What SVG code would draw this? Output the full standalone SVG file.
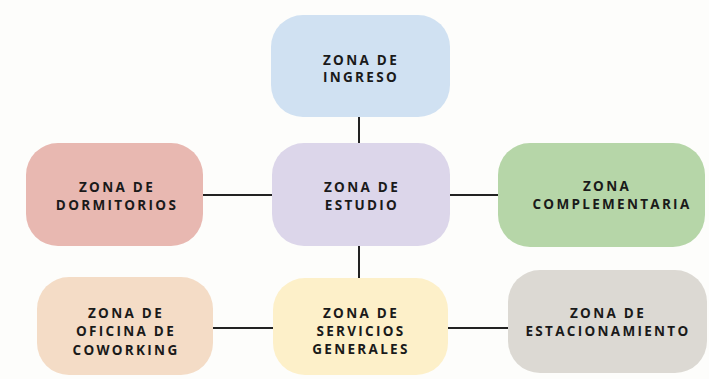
<svg xmlns="http://www.w3.org/2000/svg" width="709" height="379" viewBox="0 0 709 379">
<style>
.n{stroke:none}
.t{font-family:"Open Sans","DejaVu Sans",sans-serif;font-weight:bold;font-size:13.5px;letter-spacing:2.3px;fill:#1a1a1a;text-anchor:middle}
.c line{stroke:#222;stroke-width:2}
</style>
<rect width="709" height="379" fill="#fdfdfb"/>
<g class="c" id="connectors">
<line x1="359" y1="117" x2="359" y2="143"/>
<line x1="359" y1="246" x2="359" y2="278"/>
<line x1="203" y1="195" x2="272" y2="195"/>
<line x1="450" y1="195" x2="498" y2="195"/>
<line x1="213" y1="328" x2="273" y2="328"/>
<line x1="448" y1="328" x2="508" y2="328"/>
</g>
<g id="ingreso"><rect class="n" x="271" y="15" width="179" height="102" rx="32" fill="#d0e1f2"/>
<text class="t" x="361" y="65">ZONA DE</text><text class="t" x="361" y="82">INGRESO</text></g>
<g id="dormitorios"><rect class="n" x="26" y="143" width="177" height="103" rx="32" fill="#e8b8b1"/>
<text class="t" x="117" y="192">ZONA DE</text><text class="t" x="117" y="210">DORMITORIOS</text></g>
<g id="estudio"><rect class="n" x="272" y="143" width="178" height="103" rx="32" fill="#dcd6ea"/>
<text class="t" x="362" y="192">ZONA DE</text><text class="t" x="362" y="210">ESTUDIO</text></g>
<g id="complementaria"><rect class="n" x="498" y="143" width="207" height="104" rx="32" fill="#b6d6a8"/>
<text class="t" x="607" y="191">ZONA</text><text class="t" x="612" y="209">COMPLEMENTARIA</text></g>
<g id="coworking"><rect class="n" x="37" y="277" width="176" height="98" rx="32" fill="#f4dcc6"/>
<text class="t" x="126" y="318">ZONA DE</text><text class="t" x="126" y="336">OFICINA DE</text><text class="t" x="126" y="355">COWORKING</text></g>
<g id="servicios"><rect class="n" x="273" y="278" width="175" height="97" rx="32" fill="#fdf0c9"/>
<text class="t" x="361" y="318">ZONA DE</text><text class="t" x="361" y="336">SERVICIOS</text><text class="t" x="361" y="354">GENERALES</text></g>
<g id="estacionamiento"><rect class="n" x="508" y="270" width="199" height="103" rx="32" fill="#dcd9d3"/>
<text class="t" x="608" y="318">ZONA DE</text><text class="t" x="608" y="336">ESTACIONAMIENTO</text></g>
</svg>
